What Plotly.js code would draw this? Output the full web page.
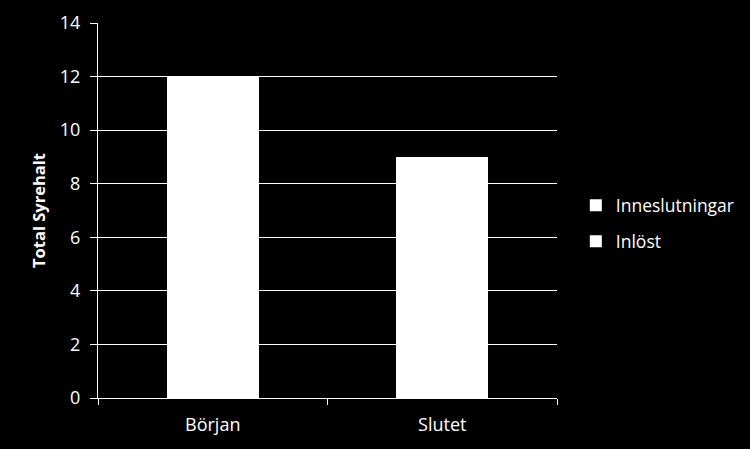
<!DOCTYPE html>
<html>
<head>
<meta charset="utf-8">
<script src="https://cdn.plot.ly/plotly-3.0.1.min.js"></script>
<style>
  html, body { margin: 0; padding: 0; background: #000; }
  #chart { width: 750px; height: 449px; }
</style>
</head>
<body>
<div id="chart"></div>
<script>
// Chart data
const categories = ['Början', 'Slutet'];
const inlost = [9, 7];          // bottom part of each stack
const inneslutningar = [3, 2];  // top part (both white, totals 12 and 9)
const yTicks = [0, 2, 4, 6, 8, 10, 12, 14];

const fontFamily = 'Open Sans, Liberation Sans, sans-serif';

const traces = [
    {
        type: 'bar',
        name: 'Inlöst',
        x: categories,
        y: inlost,
        marker: { color: '#ffffff', line: { width: 0 } },
        legend: 'legend2'
    },
    {
        type: 'bar',
        name: 'Inneslutningar',
        x: categories,
        y: inneslutningar,
        marker: { color: '#ffffff', line: { width: 0 } },
        legend: 'legend'
    }
];

const legendBase = {
    xref: 'paper', yref: 'paper',
    xanchor: 'left', yanchor: 'middle',
    bgcolor: 'rgba(0,0,0,0)',
    font: { family: fontFamily, size: 17.5, color: '#ffffff' },
    itemclick: false
};

const layout = {
    width: 750,
    height: 449,
    paper_bgcolor: '#000000',
    plot_bgcolor: '#000000',
    margin: { l: 98, r: 193, t: 23, b: 51, autoexpand: false },
    barmode: 'stack',
    bargap: 0.6,
    showlegend: true,
    legend: Object.assign({}, legendBase, { x: 1.041, y: 0.514 }),
    legend2: Object.assign({}, legendBase, { x: 1.041, y: 0.418 }),
    xaxis: {
        type: 'category',
        showline: true,
        linecolor: '#ffffff',
        linewidth: 1,
        ticks: 'outside',
        tickson: 'boundaries',
        ticklen: 6,
        tickcolor: '#ffffff',
        showgrid: false,
        ticklabelstandoff: 10,
        tickfont: { family: fontFamily, size: 18, color: '#ffffff' }
    },
    yaxis: {
        range: [0, 14],
        tickvals: yTicks,
        ticktext: yTicks.map(String),
        showline: true,
        linecolor: '#ffffff',
        linewidth: 1,
        ticks: 'outside',
        ticklen: 7,
        tickcolor: '#ffffff',
        showgrid: true,
        gridcolor: '#ffffff',
        gridwidth: 1,
        zeroline: false,
        ticklabelstandoff: 6,
        tickfont: { family: fontFamily, size: 18, color: '#ffffff' },
        title: {
            text: '<b>Total Syrehalt</b>',
            font: { family: fontFamily, size: 16.5, color: '#ffffff' },
            standoff: 10
        }
    }
};

Plotly.newPlot('chart', traces, layout, { displayModeBar: false, staticPlot: true });
</script>
</body>
</html>
